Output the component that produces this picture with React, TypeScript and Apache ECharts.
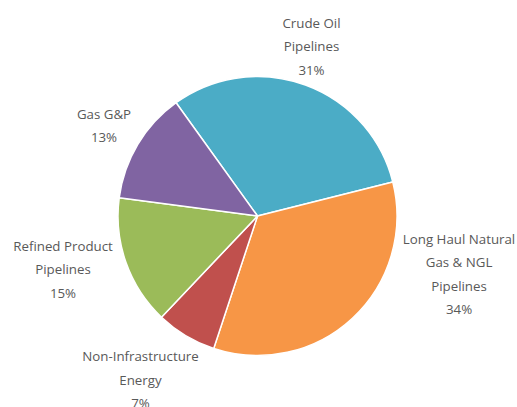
import React, { useEffect, useRef } from "react";
import * as echarts from "echarts";

const categories = [
  "Crude Oil\nPipelines",
  "Long Haul Natural\nGas & NGL\nPipelines",
  "Non-Infrastructure\nEnergy",
  "Refined Product\nPipelines",
  "Gas G&P",
];
const values = [31, 34, 7, 15, 13];
const colors = ["#4BACC6", "#F79646", "#C0504D", "#9BBB59", "#8064A2"];
// label placement: radial offset beyond the rim, then horizontal run
const labelLen = [41.5, -60.3, 51.6, 19.3, 36.7];
const labelLen2 = [-8.2, 147.6, 18.9, 44.8, 2.3];

export default function App() {
  const ref = useRef<HTMLDivElement>(null);
  useEffect(() => {
    document.body.style.margin = "0";
    const chart = echarts.init(ref.current!, null, { renderer: "svg" });
    chart.setOption({
      animation: false,
      backgroundColor: "#ffffff",
      series: [
        {
          type: "pie",
          center: [257.5, 216],
          radius: 139.5,
          startAngle: 125.7,
          clockwise: true,
          avoidLabelOverlap: false,
          itemStyle: { borderColor: "#ffffff", borderWidth: 1.5 },
          label: {
            show: true,
            position: "outside",
            distanceToLabelLine: 0,
            formatter: "{b}\n{d}%",
            color: "#595959",
            fontFamily: "Open Sans",
            fontSize: 13.3,
            lineHeight: 23.5,
          },
          labelLine: { show: false },
          labelLayout: (p: any) => {
            const r = p.labelRect;
            const ax = p.align === "right" ? r.x + r.width : r.x;
            return {
              x: ax,
              y: r.y + r.height / 2,
              align: "center",
              verticalAlign: "middle",
            };
          },
          emphasis: { disabled: true },
          data: categories.map((c, i) => ({
            name: c,
            value: values[i],
            itemStyle: { color: colors[i] },
            labelLine: { show: false, length: labelLen[i], length2: labelLen2[i] },
          })),
        },
      ],
    });
    return () => chart.dispose();
  }, []);
  return (
    <div style={{ width: 517, height: 407, overflow: "hidden" }}>
      <div ref={ref} style={{ width: 517, height: 440 }} />
    </div>
  );
}
